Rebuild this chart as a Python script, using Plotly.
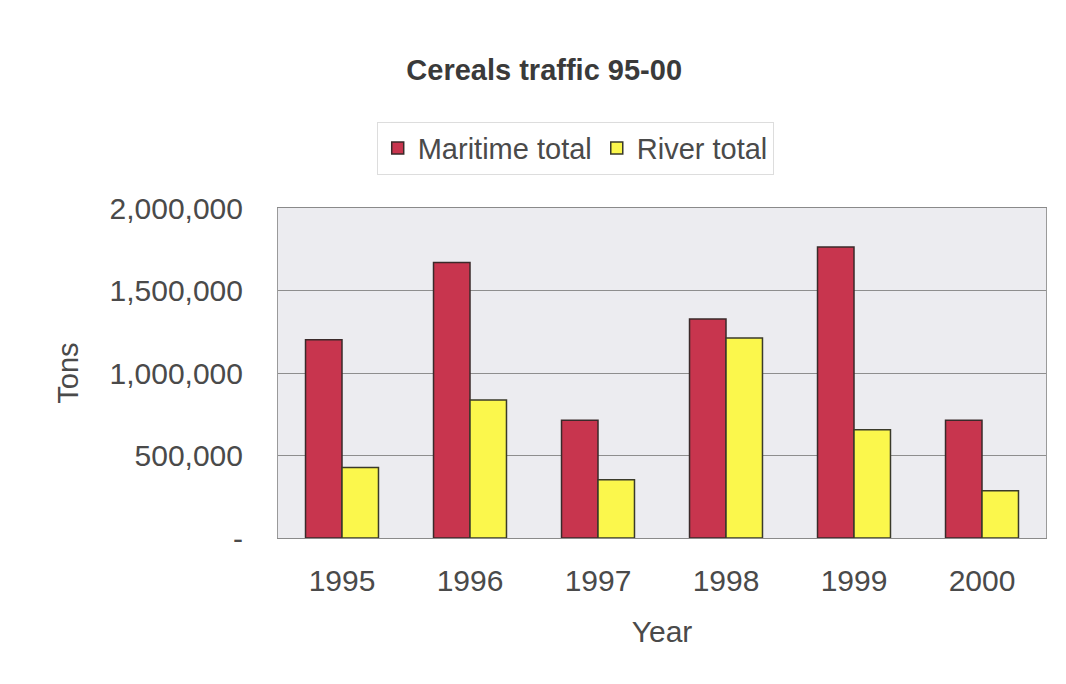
import plotly.graph_objects as go

years = ["1995", "1996", "1997", "1998", "1999", "2000"]
maritime_total = [1202000, 1670000, 713000, 1327000, 1764000, 713000]
river_total = [428000, 836000, 353000, 1212000, 656000, 287000]

y_tickvals = [0, 500000, 1000000, 1500000, 2000000]
y_ticktext = ["-", "500,000", "1,000,000", "1,500,000", "2,000,000"]

FONT = "Liberation Sans, Arial, sans-serif"

fig = go.Figure()
fig.add_trace(go.Bar(x=years, y=maritime_total, name="Maritime total",
                     marker=dict(color="#c8354e", line=dict(color="#3a2a2a", width=1.5))))
fig.add_trace(go.Bar(x=years, y=river_total, name="River total",
                     marker=dict(color="#fbf74c", line=dict(color="#3a3a2a", width=1.5))))

fig.update_layout(
    width=1066, height=684,
    barmode="group", bargap=0.43, bargroupgap=0,
    paper_bgcolor="white", plot_bgcolor="#ececf0",
    font=dict(family=FONT, size=30, color="#4a4a4a"),
    margin=dict(l=270, r=28, t=200, b=154),
    title=dict(text="<b>Cereals traffic 95-00</b>", font=dict(size=29, color="#3a3a3a"),
               x=0.503, xref="container", xanchor="center",
               y=0.909, yref="container", yanchor="middle"),
    legend=dict(orientation="h", x=0.387, xanchor="center", y=1.262, yanchor="top",
                bgcolor="white", bordercolor="#dddddd", borderwidth=1,
                font=dict(size=29, color="#4a4a4a"), itemwidth=30,
                tracegroupgap=0, traceorder="normal"),
    showlegend=True,
)

fig.update_yaxes(range=[0, 2000000], tickvals=y_tickvals, ticktext=y_ticktext,
                 showgrid=True, gridcolor="#8e8e8e", gridwidth=1,
                 showline=True, linecolor="#9a9a9a", mirror=True,
                 zeroline=False, ticklabelstandoff=28,
                 title=dict(text="Tons", standoff=22, font=dict(size=29)))
fig.update_xaxes(showline=True, linecolor="#8a8a8a", mirror=True,
                 ticklabelstandoff=16,
                 title=dict(text="Year", standoff=24, font=dict(size=30)))

fig.write_html("out.html")
